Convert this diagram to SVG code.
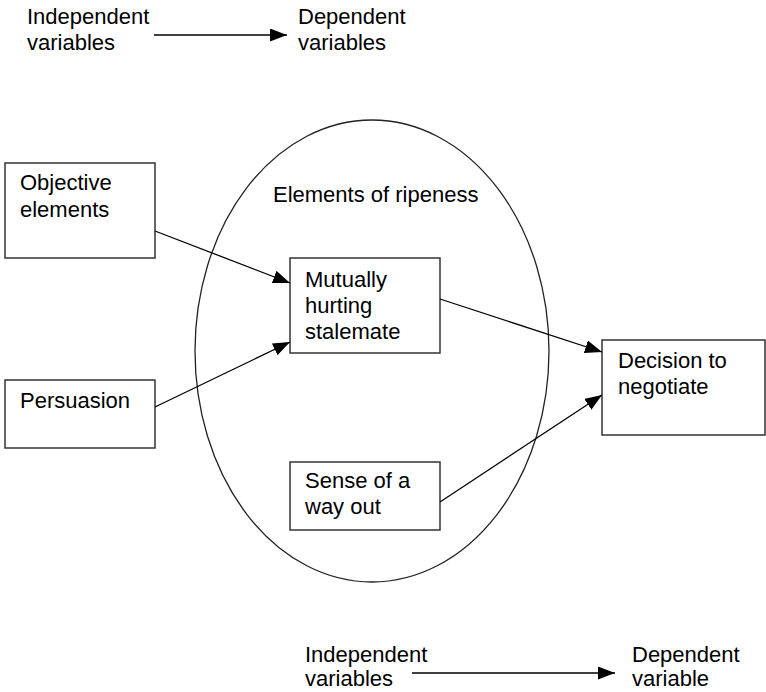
<svg xmlns="http://www.w3.org/2000/svg" width="766" height="692" viewBox="0 0 766 692">
<style>
text{font-family:"Liberation Sans",Arial,sans-serif;font-size:22px;fill:#000}
.box{fill:#fff;stroke:#333;stroke-width:1.5}
.con{stroke:#000;stroke-width:1.3;fill:none;marker-end:url(#ah)}
</style>
<defs>
<marker id="ah" markerUnits="userSpaceOnUse" markerWidth="18" markerHeight="13" refX="17" refY="6.5" orient="auto">
<path d="M0,0 L17,6.5 L0,13 Z" fill="#000"/>
</marker>
</defs>
<g id="legend-top">
<text x="27" y="24">Independent</text>
<text x="27" y="50">variables</text>
<text x="298" y="24">Dependent</text>
<text x="298" y="50">variables</text>
</g>
<g id="ripeness">
<ellipse cx="372" cy="351" rx="177" ry="231" fill="none" stroke="#222" stroke-width="1.3"/>
<text x="273" y="202">Elements of ripeness</text>
</g>
<g id="objective">
<rect class="box" x="5" y="163" width="150" height="95"/>
<text x="20" y="190">Objective</text>
<text x="20" y="217">elements</text>
</g>
<g id="persuasion">
<rect class="box" x="5" y="380" width="150" height="68"/>
<text x="20" y="408">Persuasion</text>
</g>
<g id="mhs">
<rect class="box" x="290" y="258" width="150" height="95"/>
<text x="305" y="287">Mutually</text>
<text x="305" y="313">hurting</text>
<text x="305" y="339">stalemate</text>
</g>
<g id="wayout">
<rect class="box" x="290" y="462" width="150" height="68"/>
<text x="305" y="488">Sense of a</text>
<text x="305" y="514">way out</text>
</g>
<g id="decision">
<rect class="box" x="602" y="340" width="163" height="95"/>
<text x="618" y="368">Decision to</text>
<text x="618" y="394">negotiate</text>
</g>
<g id="legend-bottom">
<text x="305" y="662">Independent</text>
<text x="305" y="686">variables</text>
<text x="632" y="662">Dependent</text>
<text x="632" y="686">variable</text>
</g>
<g id="connectors">
<line class="con" x1="154" y1="35" x2="287" y2="35"/>
<line class="con" x1="155" y1="231" x2="290" y2="283"/>
<line class="con" x1="155" y1="407" x2="290" y2="342"/>
<line class="con" x1="440" y1="299" x2="602" y2="352"/>
<line class="con" x1="440" y1="502" x2="602" y2="395"/>
<line class="con" x1="412" y1="673" x2="615" y2="673"/>
</g>
</svg>
